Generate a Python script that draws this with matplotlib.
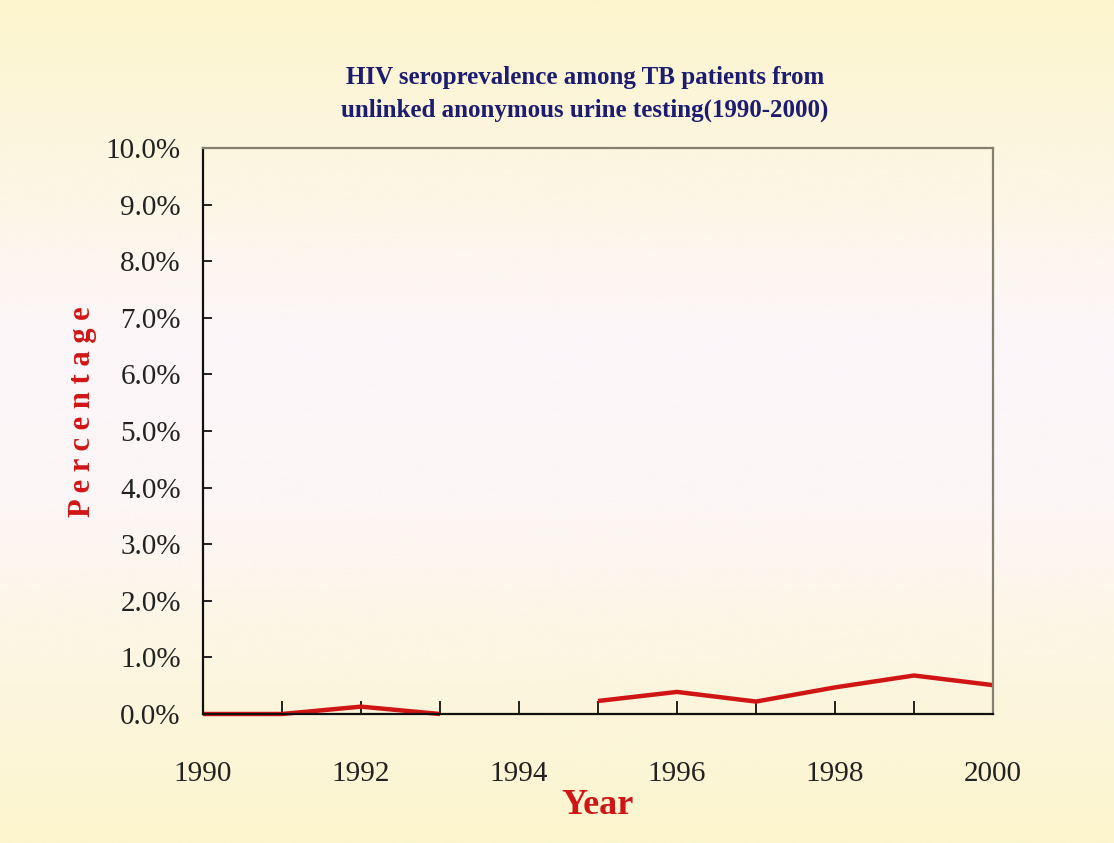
import numpy as np
import matplotlib
matplotlib.use("Agg")
import matplotlib.pyplot as plt
from matplotlib.colors import LinearSegmentedColormap
from matplotlib.ticker import MultipleLocator, FuncFormatter

years = [1990, 1991, 1992, 1993, 1994, 1995, 1996, 1997, 1998, 1999, 2000]
prevalence = [0.0, 0.0, 0.13, 0.0, np.nan, 0.23, 0.39, 0.22, 0.47, 0.68, 0.51]
title = "HIV seroprevalence among TB patients from\nunlinked anonymous urine testing(1990-2000)"
xlabel = "Year"
ylabel = "P e r c e n t a g e"

W, H = 1114, 843
fig = plt.figure(figsize=(W / 100, H / 100), dpi=100)

# background gradient
bg = fig.add_axes([0, 0, 1, 1], zorder=-10)
cmap = LinearSegmentedColormap.from_list(
    "bg", ["#FCF5CD", "#FCF6E2", "#FCF6FA", "#FCF6F6", "#FCF6E0", "#FCF5CD"])
grad = np.linspace(0, 1, 512).reshape(-1, 1)
bg.imshow(grad, aspect="auto", cmap=cmap, extent=[0, 1, 0, 1], origin="upper")
bg.set_axis_off()

left, right = 203 / W, 993 / W
bottom, top = 1 - 714 / H, 1 - 148 / H
ax = fig.add_axes([left, bottom, right - left, top - bottom])
ax.set_facecolor("none")

ax.plot(years, prevalence, color="#D01515", lw=3.2, solid_joinstyle="miter",
        solid_capstyle="butt", clip_on=False)

ax.set_xlim(1990, 2000)
ax.set_ylim(0, 10)
ax.xaxis.set_major_locator(MultipleLocator(2))
ax.xaxis.set_minor_locator(MultipleLocator(1))
ax.yaxis.set_major_locator(MultipleLocator(1))
ax.yaxis.set_major_formatter(FuncFormatter(lambda v, p: f"{v:.1f}%"))

serif = "Liberation Serif"
ax.tick_params(axis="x", which="both", direction="in", length=9.5, width=1.3,
               color="#111111", pad=34, labelsize=21, labelcolor="#222222")
ax.tick_params(axis="y", which="major", direction="in", length=6.5, width=1.3,
               color="#111111", pad=16, labelsize=21, labelcolor="#222222")
ax.tick_params(axis="y", which="minor", left=False)
for lab in ax.get_xticklabels() + ax.get_yticklabels():
    lab.set_fontfamily(serif)

for s in ["left", "bottom"]:
    ax.spines[s].set_color("#111111")
    ax.spines[s].set_linewidth(1.6)
for s in ["top", "right"]:
    ax.spines[s].set_color("#857F70")
    ax.spines[s].set_linewidth(1.6)

fig.text(585 / W, 1 - 94 / H, title, ha="center", va="center",
         fontsize=18, fontweight="bold", family=serif, color="#1C1C70",
         linespacing=1.5)
fig.text(598 / W, 1 - 806 / H, xlabel, ha="center", va="center",
         fontsize=26, fontweight="bold", family=serif, color="#D01515")
fig.text(83 / W, 1 - 412 / H, ylabel, ha="center", va="center", rotation=90,
         fontsize=22, fontweight="bold", family=serif, color="#D01515")

fig.savefig("out.png", dpi=100)
